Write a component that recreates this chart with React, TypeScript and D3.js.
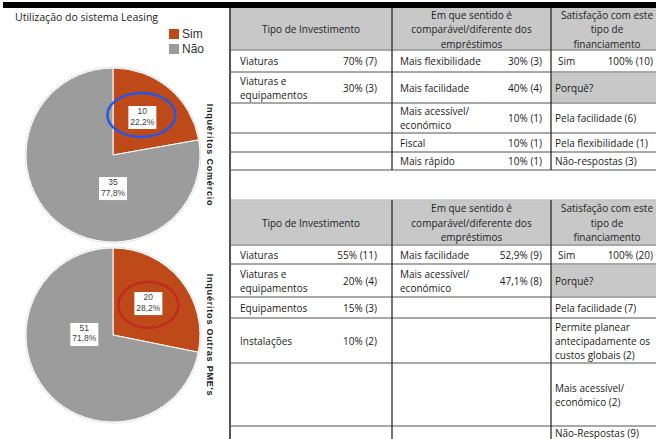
import React from "react";
import * as d3 from "d3";

// ---------- data ----------
const pieCategories = ["Sim", "Não"];
const comercioValues = [10, 35];
const outrasValues = [20, 51];
const pieTitles = ["Inquéritos Comércio", "Inquéritos Outras PME's"];
const chartTitle = "Utilização do sistema Leasing";

const headerTipo = ["Tipo de Investimento"];
const headerSentido = ["Em que sentido é", "comparável/diferente dos", "empréstimos"];
const headerSatisf = ["Satisfação com este", "tipo de", "financiamento"];

// table 1 (Comércio)
const t1Tipo: [string, string][] = [
  ["Viaturas", "70% (7)"],
  ["Viaturas e|equipamentos", "30% (3)"],
  ["", ""],
  ["", ""],
  ["", ""],
];
const t1Sentido: [string, string][] = [
  ["Mais flexibilidade", "30% (3)"],
  ["Mais facilidade", "40% (4)"],
  ["Mais acessível/|económico", "10% (1)"],
  ["Fiscal", "10% (1)"],
  ["Mais rápido", "10% (1)"],
];
const t1Satisf: [string, string][] = [
  ["Sim", "100% (10)"],
  ["Porquê?", ""],
  ["Pela facilidade (6)", ""],
  ["Pela flexibilidade (1)", ""],
  ["Não-respostas (3)", ""],
];

// table 2 (Outras PME's)
const t2Tipo: [string, string][] = [
  ["Viaturas", "55% (11)"],
  ["Viaturas e|equipamentos", "20% (4)"],
  ["Equipamentos", "15% (3)"],
  ["Instalações", "10% (2)"],
  ["", ""],
  ["", ""],
];
const t2Sentido: [string, string][] = [
  ["Mais facilidade", "52,9% (9)"],
  ["Mais acessível/|económico", "47,1% (8)"],
  ["", ""],
  ["", ""],
  ["", ""],
  ["", ""],
];
const t2Satisf: [string, string][] = [
  ["Sim", "100% (20)"],
  ["Porquê?", ""],
  ["Pela facilidade (7)", ""],
  ["Permite planear|antecipadamente os|custos globais (2)", ""],
  ["Mais acessível/|económico (2)", ""],
  ["Não-Respostas (9)", ""],
];

// ---------- layout ----------
const W = 656;
const H = 439;
const COLORS = ["#BE4A1A", "#9C9C9C"];
const FONT = "'Open Sans', 'DejaVu Sans', sans-serif";
const colX = [230, 392, 551, 690];
const t1Rows = [8, 50, 72, 103, 133, 152, 170];
const t2Rows = [200, 245, 264, 297, 318, 363, 426, 452];
const pieLayout = [
  { cx: 113, cy: 155, r: 87, gray: { angle: 180, rf: 0.38 }, ellipse: "#2456E8", erx: 34, ery: 22, edx: -1, edy: -2 },
  { cx: 113, cy: 335, r: 87, gray: { angle: 272, rf: 0.33 }, ellipse: "#C02A22", erx: 30, ery: 23, edx: 0, edy: 2 },
];

const fmtPct = (v: number) => d3.format(".1f")(v).replace(".", ",") + "%";

function Pie({ values, idx }: { values: number[]; idx: number }) {
  const L = pieLayout[idx];
  const total = d3.sum(values);
  const arcs = d3.pie<number>().sort(null).value((d) => d)(values);
  const arc = d3.arc<d3.PieArcDatum<number>>().innerRadius(0).outerRadius(L.r);
  const labelArc = d3.arc<d3.PieArcDatum<number>>().innerRadius(L.r * 0.05).outerRadius(L.r * 1.0);
  return (
    <g>
      <circle cx={L.cx} cy={L.cy} r={L.r + 0.8} fill="none" stroke="#e6e6e6" strokeWidth={1.2} />
      <g transform={`translate(${L.cx},${L.cy})`}>
        {arcs.map((a, i) => (
          <path key={i} d={arc(a) || ""} fill={COLORS[i]} stroke="#fff" strokeWidth={1} />
        ))}
      </g>
      {arcs.map((a, i) => {
        let x: number, y: number;
        if (i === 0) {
          const c = labelArc.centroid(a);
          x = L.cx + c[0];
          y = L.cy + c[1] - 3;
        } else {
          const ang = (L.gray.angle * Math.PI) / 180;
          x = L.cx + Math.sin(ang) * L.r * L.gray.rf;
          y = L.cy - Math.cos(ang) * L.r * L.gray.rf;
        }
        const pct = fmtPct((values[i] / total) * 100);
        return (
          <g key={i}>
            <rect x={x - 14} y={y - 11} width={28} height={23} fill="#fff" />
            <text x={x} y={y - 3} textAnchor="middle" fontSize={8.5} fill="#404040" fontFamily="Arial, 'Liberation Sans', sans-serif">
              {values[i]}
            </text>
            <text x={x} y={y + 7.5} textAnchor="middle" fontSize={8.5} fill="#404040" fontFamily="Arial, 'Liberation Sans', sans-serif">
              {pct}
            </text>
            {i === 0 && (
              <ellipse cx={x + L.edx} cy={y + L.edy} rx={L.erx} ry={L.ery} fill="none" stroke={L.ellipse} strokeWidth={2.5} />
            )}
          </g>
        );
      })}
      <text
        transform={`translate(${207},${L.cy}) rotate(90)`}
        textAnchor="middle"
        fontSize={9}
        letterSpacing={0.8}
        fontWeight="bold"
        fill="#222"
        fontFamily="Arial, 'Liberation Sans', sans-serif"
      >
        {pieTitles[idx]}
      </text>
    </g>
  );
}

function CellText({ x, yTop, yBot, label, value, valueX, anchor }: any) {
  const lines = label ? label.split("|") : [];
  const cy = (yTop + yBot) / 2;
  const lh = 14;
  const start = cy - ((lines.length - 1) * lh) / 2;
  return (
    <g fontFamily={FONT} fontSize={10} fill="#1a1a1a">
      {lines.map((ln: string, i: number) => (
        <text key={i} x={x} y={start + i * lh} dominantBaseline="central" textAnchor={anchor || "start"}>
          {ln}
        </text>
      ))}
      {value && (
        <text x={valueX} y={cy} dominantBaseline="central" textAnchor="end">
          {value}
        </text>
      )}
    </g>
  );
}

function Table({ rows, tipo, sentido, satisf }: { rows: number[]; tipo: [string, string][]; sentido: [string, string][]; satisf: [string, string][] }) {
  const top = rows[0];
  const hb = rows[1];
  const bottom = rows[rows.length - 1];
  const headers = [headerTipo, headerSentido, headerSatisf];
  const headerCx = [(colX[0] + colX[1]) / 2, (colX[1] + colX[2]) / 2, 607];
  const bodyRows = rows.slice(1);
  return (
    <g>
      <rect x={colX[0]} y={top} width={W - colX[0]} height={hb - top} fill="#C8C8C8" />
      {satisf.map((s, i) =>
        s[0] === "Porquê?" ? (
          <rect key={i} x={colX[2]} y={bodyRows[i]} width={W - colX[2]} height={bodyRows[i + 1] - bodyRows[i]} fill="#C8C8C8" />
        ) : null
      )}
      {headers.map((h, ci) => {
        const cy = (top + hb) / 2;
        const lh = 14.5;
        const start = cy - ((h.length - 1) * lh) / 2;
        return h.map((ln, li) => (
          <text key={`${ci}-${li}`} x={headerCx[ci]} y={start + li * lh} dominantBaseline="central" textAnchor="middle" fontFamily={FONT} fontSize={10} fill="#222">
            {ln}
          </text>
        ));
      })}
      {rows.slice(1, rows.length - 1).concat(rows.length > 7 ? [] : [rows[rows.length - 1]]).map((y, i) => (
        <line key={i} x1={colX[0]} x2={W} y1={y} y2={y} stroke="#A8A8A8" strokeWidth={2} />
      ))}
      {top > 10 && <line x1={colX[0]} x2={W} y1={top} y2={top} stroke="#C4C4C4" strokeWidth={1.5} />}
      {[1, 2].map((c) => (
        <line key={c} x1={colX[c]} x2={colX[c]} y1={top} y2={bottom} stroke="#2a2a2a" strokeWidth={1.3} />
      ))}
      {tipo.map((r, i) => (
        <CellText key={"a" + i} x={240} yTop={bodyRows[i]} yBot={bodyRows[i + 1]} label={r[0]} value={r[1]} valueX={377} />
      ))}
      {sentido.map((r, i) => (
        <CellText key={"b" + i} x={400} yTop={bodyRows[i]} yBot={bodyRows[i + 1]} label={r[0]} value={r[1]} valueX={542} />
      ))}
      {satisf.map((r, i) => (
        <CellText
          key={"c" + i}
          x={r[1] ? 558 : 555}
          yTop={bodyRows[i]}
          yBot={i === satisf.length - 1 && rows.length > 7 ? 439 : bodyRows[i + 1]}
          label={r[0]}
          value={r[1]}
          valueX={653}
        />
      ))}
    </g>
  );
}

export default function App() {
  return (
    <svg width={W} height={H} style={{ position: "absolute", left: 0, top: 0, background: "#fff" }}>
      <rect x={0} y={0} width={W} height={H} fill="#fff" />
      <rect x={3} y={2} width={W - 3} height={6} fill="#000" />
      <text x={15} y={17} dominantBaseline="central" fontFamily={FONT} fontSize={10.5} fill="#222">
        {chartTitle}
      </text>
      {pieCategories.map((c, i) => (
        <g key={c}>
          <rect x={169} y={29 + i * 15} width={10} height={10} fill={COLORS[i]} />
          <text x={182} y={34 + i * 15} dominantBaseline="central" fontFamily="Arial, 'Liberation Sans', sans-serif" fontSize={12} fill="#333">
            {c}
          </text>
        </g>
      ))}
      <Pie values={comercioValues} idx={0} />
      <Pie values={outrasValues} idx={1} />
      <Table rows={t1Rows} tipo={t1Tipo} sentido={t1Sentido} satisf={t1Satisf} />
      <Table rows={t2Rows} tipo={t2Tipo} sentido={t2Sentido} satisf={t2Satisf} />
      <line x1={230} x2={230} y1={8} y2={H} stroke="#555" strokeWidth={2} />
    </svg>
  );
}
